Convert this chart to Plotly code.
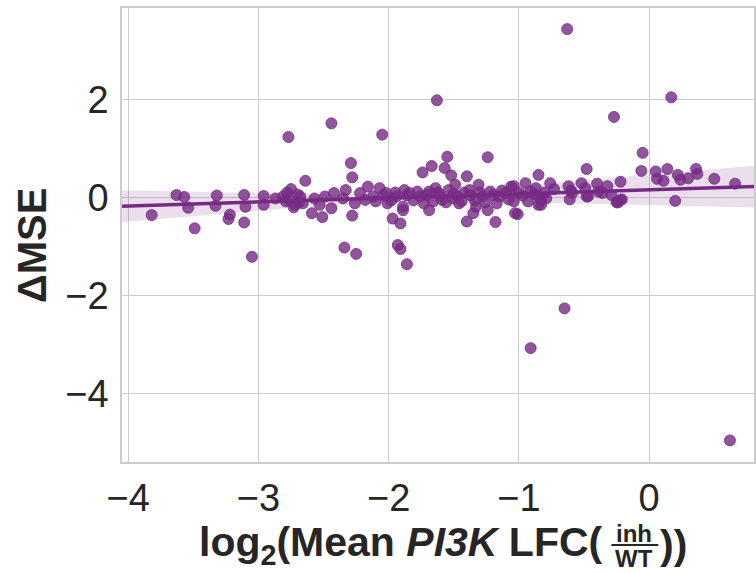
import numpy as np
import plotly.graph_objects as go

# log2 mean PI3K LFC (inh/WT) per gene
lfc = [
    -3.82, -3.63, -3.57, -3.54, -3.49, -3.32, -3.33, -3.22, -3.23, -3.11, -3.10, -3.11, -3.05,
    -2.96, -2.96, -2.87, -2.81, -2.77, -2.75, -2.76, -2.72, -2.68, -2.64, -2.66, -2.59, -2.57,
    -2.53, -2.51, -2.49, -2.44, -2.44, -2.42, -2.35, -2.33, -2.34, -2.29, -2.28, -2.28, -2.26,
    -2.25, -2.22, -2.16, -2.12, -2.07, -2.05, -2.02, -2.01, -1.97, -1.94, -1.93, -1.91, -1.91,
    -1.89, -1.89, -1.88, -1.86, -1.84, -1.76, -1.74, -1.73, -1.69, -1.69, -1.67, -1.64, -1.63,
    -1.61, -1.59, -1.57, -1.55, -1.54, -1.52, -1.51, -1.49, -1.47, -1.44, -1.40, -1.40, -1.38,
    -1.35, -1.33, -1.31, -1.28, -1.24, -1.24, -1.22, -1.18, -1.15, -1.10, -1.06, -1.04, -1.04,
    -1.03, -1.01, -1.00, -0.95, -0.91, -0.91, -0.87, -0.85, -0.85, -0.85, -0.83, -0.83, -0.76,
    -0.73, -0.65, -0.63, -0.62, -0.61, -0.59, -0.60, -0.52, -0.49, -0.48, -0.48, -0.40, -0.39,
    -0.36, -0.32, -0.29, -0.27, -0.25, -0.22, -0.22, -0.24, -0.21, -0.47, -0.06, -0.05, 0.05,
    0.06, 0.11, 0.14, 0.17, 0.20, 0.22, 0.24, 0.30, 0.36, 0.37, 0.50, 0.62, 0.66,
    -2.79, -2.70, -2.73, -2.78, -2.69,
    -2.18, -2.10, -2.04, -1.98, -1.95, -1.86, -1.81, -1.78, -1.71, -1.66, -1.62, -1.56, -1.50,
    -1.46, -1.42, -1.37, -1.34, -1.30, -1.26, -1.20, -1.17, -1.13, -1.08, -0.97, -0.93, -0.88,
    -0.80, -0.79,
]

# change in mean squared error per gene
delta_mse = [
    -0.36, 0.05, 0.01, -0.21, -0.63, 0.04, -0.17, -0.35, -0.44, 0.05, -0.19, -0.51, -1.21,
    0.03, -0.15, -0.02, 0.02, 1.23, 0.17, -0.05, -0.15, 0.02, 0.34, -0.12, -0.32, -0.02,
    -0.15, -0.40, 0.02, 1.51, -0.22, 0.09, -0.02, 0.15, -1.02, 0.70, 0.41, -0.37, -0.12,
    -1.15, 0.09, 0.22, 0.02, 0.19, 1.28, 0.09, -0.12, -0.43, 0.02, -0.97, -0.53, -1.05,
    -0.26, -0.19, 0.15, -1.36, 0.09, 0.02, 0.51, -0.12, 0.12, -0.26, 0.64, 0.19, 1.98,
    0.05, -0.05, 0.60, 0.83, 0.15, 0.45, -0.02, 0.26, 0.02, -0.08, 0.43, -0.49, 0.15,
    -0.32, -0.19, 0.26, 0.02, 0.82, -0.26, 0.12, -0.50, 0.02, 0.09, 0.22, 0.23, -0.08,
    -0.32, -0.34, 0.09, 0.29, 0.12, -3.07, 0.19, 0.46, -0.15, 0.02, -0.05, -0.15, 0.29,
    0.17, -2.26, 3.43, 0.23, -0.04, 0.09, 0.14, 0.29, 0.19, 0.58, 0.02, 0.28, 0.12,
    0.09, 0.23, 0.05, 1.64, -0.10, 0.32, -0.05, -0.10, -0.04, 0.02, 0.54, 0.91, 0.53,
    0.38, 0.34, 0.58, 2.04, -0.07, 0.46, 0.36, 0.39, 0.58, 0.48, 0.38, -4.95, 0.28,
    -0.08, 0.06, -0.20, 0.10, -0.10,
    -0.05, -0.08, 0.04, -0.06, 0.10, 0.04, -0.06, 0.12, 0.05, -0.08, 0.10, -0.10, 0.08,
    -0.12, 0.10, 0.04, -0.06, 0.10, -0.10, 0.05, -0.12, 0.14, -0.04, 0.04, -0.08, 0.07,
    0.10, -0.02,
]

x_ticks = [-4, -3, -2, -1, 0]
y_ticks = [-4, -2, 0, 2]

x_range = [-4.048, 0.805]
y_range = [-5.39, 3.86]

purple = (118, 42, 131)
rgb = "rgb({},{},{})".format(*purple)
rgba = lambda a: "rgba({},{},{},{})".format(*purple, a)

# least squares fit; 95% band for the mean from a robust (HC3) covariance
x = np.asarray(lfc, dtype=float)
y = np.asarray(delta_mse, dtype=float)
n = len(x)
X = np.column_stack([np.ones(n), x])
XtX_inv = np.linalg.inv(X.T @ X)
beta = XtX_inv @ X.T @ y
resid = y - X @ beta
lev = np.einsum("ij,jk,ik->i", X, XtX_inv, X)
meat = X.T @ (X * (resid / (1 - lev))[:, None] ** 2)
cov = XtX_inv @ meat @ XtX_inv

grid = np.linspace(x_range[0], x_range[1], 100)
G = np.column_stack([np.ones_like(grid), grid])
fit = G @ beta
half = 1.97 * np.sqrt(np.einsum("ij,jk,ik->i", G, cov, G))

fig = go.Figure()
fig.add_trace(go.Scatter(
    x=np.concatenate([grid, grid[::-1]]),
    y=np.concatenate([fit + half, (fit - half)[::-1]]),
    fill="toself", fillcolor=rgba(0.15), line=dict(width=0),
    hoverinfo="skip", showlegend=False,
))
fig.add_trace(go.Scatter(
    x=lfc, y=delta_mse, mode="markers",
    marker=dict(size=11, color=rgba(0.8), line=dict(width=1, color=rgba(0.8))),
    showlegend=False,
))
fig.add_trace(go.Scatter(
    x=grid, y=fit, mode="lines", line=dict(color=rgb, width=3.5),
    showlegend=False,
))

font_family = "Liberation Sans, Arial, sans-serif"
ink = "#262626"
axis_common = dict(
    showgrid=True, gridcolor="#cccccc", gridwidth=1.2,
    showline=True, linecolor="#cccccc", linewidth=1.5, mirror=True,
    zeroline=False, ticks="",
    tickfont=dict(family=font_family, size=38, color=ink),
)

fig.update_layout(
    width=756, height=573,
    margin=dict(l=122, r=0, t=8, b=111),
    paper_bgcolor="white", plot_bgcolor="white",
    xaxis=dict(range=x_range, tickvals=x_ticks,
               ticktext=["\u2212" + str(-v) if v < 0 else str(v) for v in x_ticks],
               ticklabelstandoff=2, **axis_common),
    yaxis=dict(range=y_range, tickvals=y_ticks,
               ticktext=["\u2212" + str(-v) if v < 0 else str(v) for v in y_ticks],
               ticklabelstandoff=4, **axis_common),
)

# y-axis title
fig.add_annotation(
    text="<b>\u0394MSE</b>", textangle=-90, showarrow=False,
    xref="paper", yref="paper", x=0, y=0.5, xanchor="center", yanchor="middle",
    xshift=-90, yshift=-11,
    font=dict(family=font_family, size=40, color=ink),
)

# x-axis title: text, stacked fraction, closing brackets
title_y = (462 - 545) / 454
fig.add_annotation(
    text="<b>log<sub>2</sub>(Mean <i>PI3K</i> LFC(</b>", showarrow=False,
    xref="paper", yref="paper", x=(607 - 122) / 634, y=title_y, yshift=0,
    xanchor="right", yanchor="middle",
    font=dict(family=font_family, size=41, color=ink),
)
fig.add_annotation(
    text="<b>inh</b>", showarrow=False,
    xref="paper", yref="paper", x=(636 - 122) / 634, y=title_y, yshift=12,
    xanchor="center", yanchor="middle",
    font=dict(family=font_family, size=24, color=ink),
)
fig.add_annotation(
    text="<b>WT</b>", showarrow=False,
    xref="paper", yref="paper", x=(636 - 122) / 634, y=title_y, yshift=-13,
    xanchor="center", yanchor="middle",
    font=dict(family=font_family, size=24, color=ink),
)
fig.add_annotation(
    text="<b>))</b>", showarrow=False,
    xref="paper", yref="paper", x=(660 - 122) / 634, y=title_y,
    xanchor="left", yanchor="middle",
    font=dict(family=font_family, size=41, color=ink),
)
fig.add_shape(
    type="line", xref="paper", yref="paper",
    x0=(613 - 122) / 634, x1=(660 - 122) / 634,
    y0=title_y, y1=title_y,
    line=dict(color=ink, width=2),
)

fig.write_html("out.html")
